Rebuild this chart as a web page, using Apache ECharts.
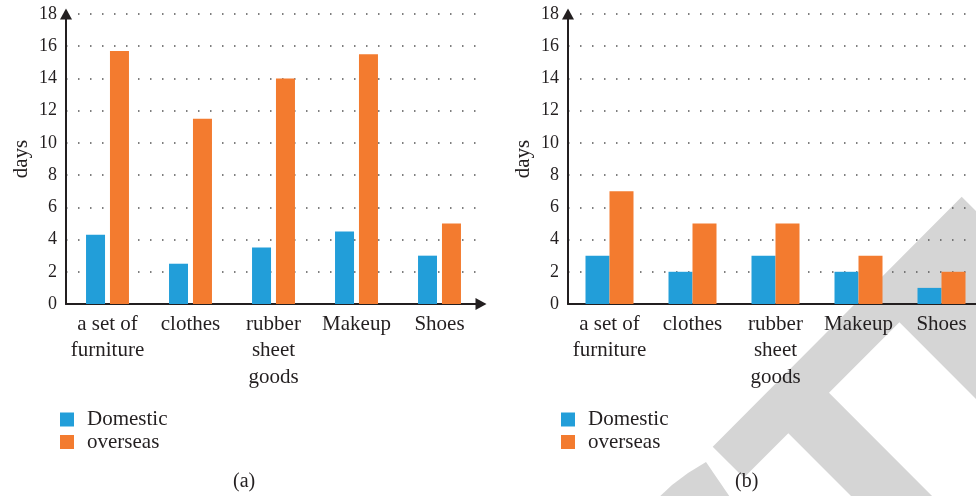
<!DOCTYPE html>
<html><head><meta charset="utf-8">
<script src="https://cdn.jsdelivr.net/npm/echarts@6/dist/echarts.min.js"></script>
<style>html,body{margin:0;padding:0;background:#fff}#c{width:976px;height:496px}</style>
</head><body><div id="c"></div>
<script>
const categories = ['a set of\nfurniture', 'clothes', 'rubber\nsheet\ngoods', 'Makeup', 'Shoes'];
const domesticA = [4.3, 2.5, 3.5, 4.5, 3.0];
const overseasA = [15.7, 11.5, 14.0, 15.5, 5.0];
const domesticB = [3, 2, 3, 2, 1];
const overseasB = [7, 5, 5, 3, 2];
const yTicks = [0, 2, 4, 6, 8, 10, 12, 14, 16, 18];
const seriesNames = ['Domestic', 'overseas'];
const captions = ['(a)', '(b)'];

const FONT = 'Liberation Serif';
const TXT = '#231f20';
const BLUE = '#229ed9';
const ORANGE = '#f37b2f';
const WM = '#d5d5d5';

function xAxis(idx) {
  return {
    type: 'category', gridIndex: idx, data: categories,
    axisLine: { lineStyle: { color: TXT, width: 2 }, symbol: ['none', 'triangle'], symbolSize: [12, 11], symbolOffset: [0, 0] },
    axisTick: { show: false },
    axisLabel: { color: TXT, fontFamily: FONT, fontSize: 21, lineHeight: 26.5, margin: 7, interval: 0 }
  };
}
function yAxis(idx) {
  return {
    type: 'value', gridIndex: idx, min: yTicks[0], max: yTicks[yTicks.length - 1], interval: 2,
    name: 'days', nameLocation: 'middle', nameGap: 34, nameRotate: 90,
    nameTextStyle: { color: TXT, fontFamily: FONT, fontSize: 21 },
    axisLine: { show: true, lineStyle: { color: TXT, width: 2 }, symbol: ['none', 'triangle'], symbolSize: [12, 11], symbolOffset: [0, 0] },
    axisTick: { show: false },
    axisLabel: { color: TXT, fontFamily: FONT, fontSize: 18, margin: 9 },
    splitLine: { show: true, lineStyle: { color: '#555', width: 1.5, type: [1.5, 10.5] } }
  };
}
function legend(left) {
  return { left: left, top: 404, orient: 'vertical', itemWidth: 14, itemHeight: 14, itemGap: 1.5, icon: 'rect', data: seriesNames,
    textStyle: { color: TXT, fontFamily: FONT, fontSize: 21, padding: [0, 0, 0, 8] } };
}

const option = {
  animation: false,
  grid: [
    { left: 66, top: 14, width: 415, height: 290, outerBoundsMode: 'none', containLabel: false },
    { left: 568, top: 14, width: 415, height: 290, outerBoundsMode: 'none', containLabel: false }
  ],
  xAxis: [xAxis(0), xAxis(1)],
  yAxis: [yAxis(0), yAxis(1)],
  legend: [legend(55), legend(556)],
  title: [
    { text: captions[0], left: 233, top: 472, padding: 0, textStyle: { color: TXT, fontFamily: FONT, fontSize: 20, fontWeight: 'normal' } },
    { text: captions[1], left: 735, top: 472, padding: 0, textStyle: { color: TXT, fontFamily: FONT, fontSize: 20, fontWeight: 'normal' } }
  ],
  graphic: [
    { type: 'polygon', z: -10, silent: true, shape: { points: [
      [961.7, 196.7], [1000, 235], [1000, 423], [899.4, 322.3], [829, 392.7], [946, 510],
      [865, 510], [788.3, 433.3], [743.8, 477.8], [712.7, 446.7]] }, style: { fill: WM } },
    { type: 'polygon', z: -10, silent: true, shape: { points: [[656, 500], [672, 485], [688, 473], [706, 462], [732, 500]] }, style: { fill: WM } }
  ],
  series: [
    { name: seriesNames[0], type: 'bar', xAxisIndex: 0, yAxisIndex: 0, data: domesticA, barWidth: 19, barGap: '26%', itemStyle: { color: BLUE } },
    { name: seriesNames[1], type: 'bar', xAxisIndex: 0, yAxisIndex: 0, data: overseasA, barWidth: 19, barGap: '26%', itemStyle: { color: ORANGE } },
    { name: seriesNames[0], type: 'bar', xAxisIndex: 1, yAxisIndex: 1, data: domesticB, barWidth: 24, barGap: '0%', itemStyle: { color: BLUE } },
    { name: seriesNames[1], type: 'bar', xAxisIndex: 1, yAxisIndex: 1, data: overseasB, barWidth: 24, barGap: '0%', itemStyle: { color: ORANGE } }
  ]
};
const chart = echarts.init(document.getElementById('c'), null, { renderer: 'canvas' });
chart.setOption(option);
</script>
</body></html>
